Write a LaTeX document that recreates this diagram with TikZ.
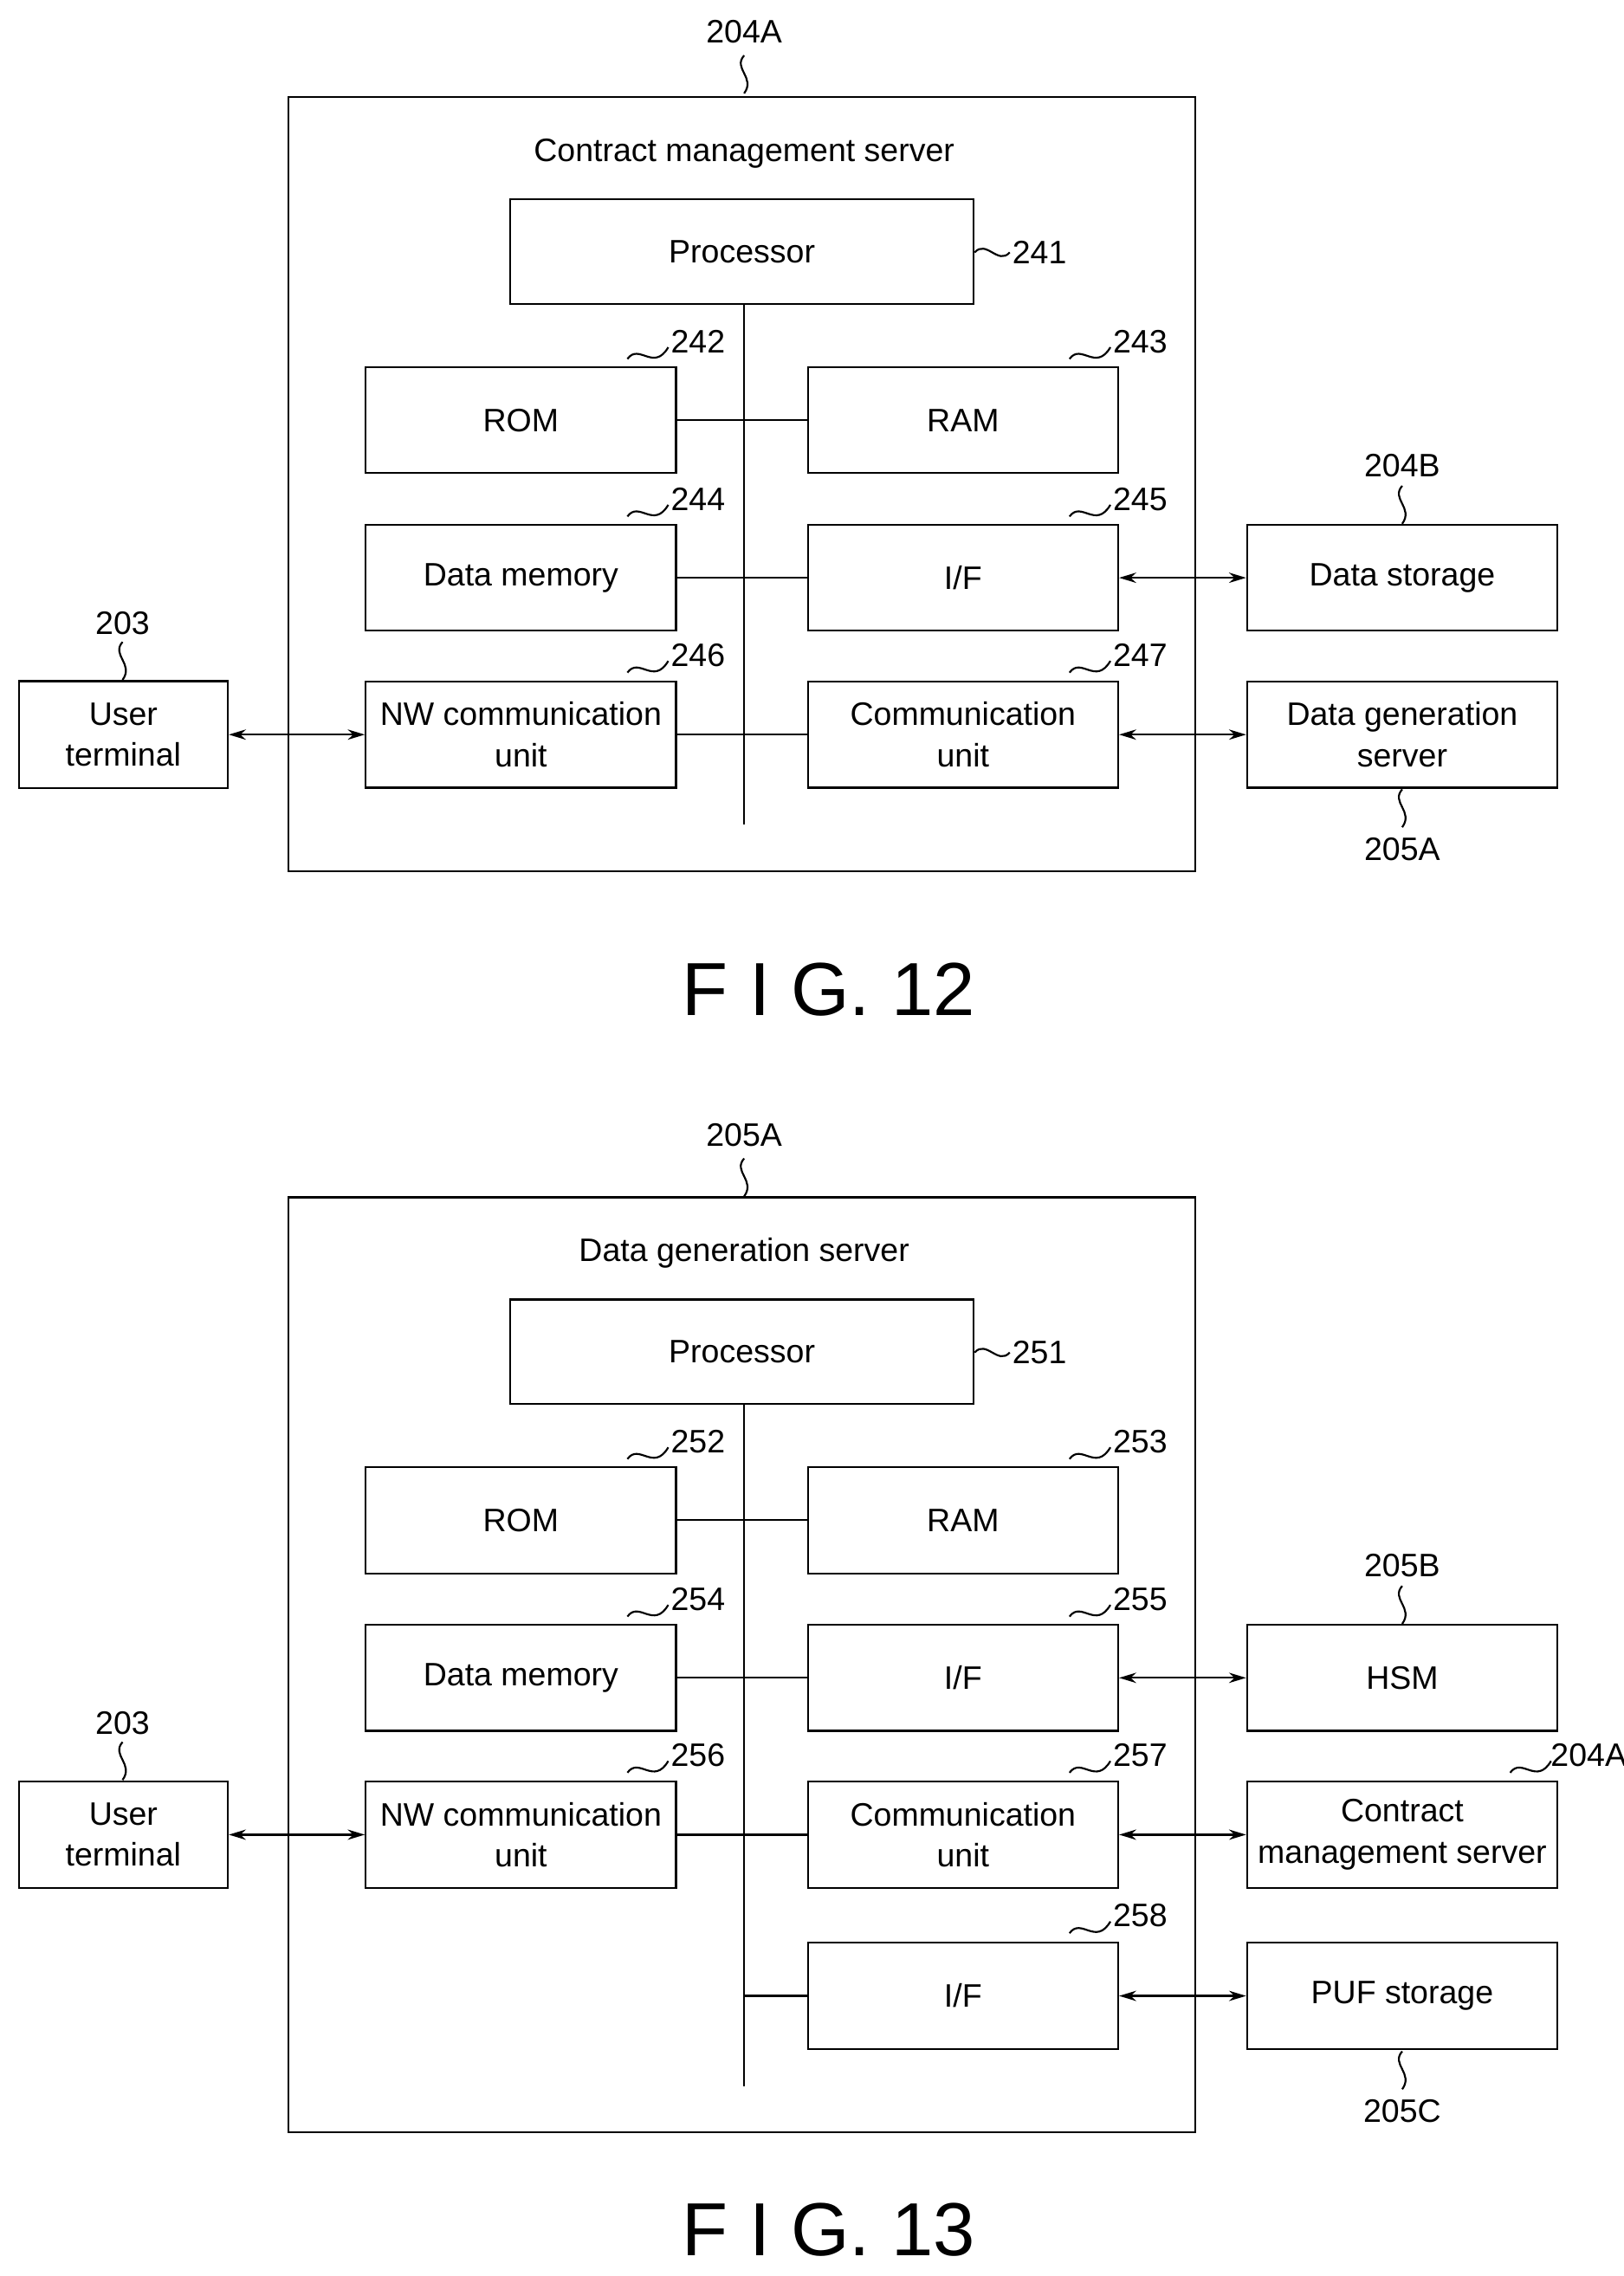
\documentclass[tikz,border=0pt]{standalone}
\usepackage{fontspec}
\setmainfont{Liberation Sans}
\usetikzlibrary{arrows.meta}
\begin{document}
\begin{tikzpicture}[x=0.03cm,y=-0.03cm,line width=1.1pt,
 box/.style={draw,minimum width=6.38cm,minimum height=2.18cm,align=center,inner sep=0pt,font=\fontsize{19}{24}\selectfont},
 sbox/.style={draw,minimum width=4.3cm,minimum height=2.2cm,align=center,inner sep=0pt,font=\fontsize{19}{24}\selectfont},
 lab/.style={font=\fontsize{19}{24}\selectfont,inner sep=1pt},
 fig/.style={font=\fontsize{44}{48}\selectfont},
 arr/.style={{Stealth[length=10pt,width=6pt]}-{Stealth[length=10pt,width=6pt]}}]
\useasboundingbox (0,0) rectangle (1113,1560);
\newcommand{\tl}[3]{\draw (#1-34,#2-5) .. controls (#1-26,#2-16) and (#1-16,#2+4) .. (#1-6,#2-13); \node[lab,anchor=west] at (#1-6,#2-17) {#3};}
\newcommand{\vt}[2]{\draw (#1,#2) .. controls (#1-8,#2+9) and (#1+8,#2+15) .. (#1,#2+26);}
% ---------- FIG 12
\begin{scope}
\node[draw,minimum width=18.65cm,minimum height=15.92cm] (outA) at (508.5,332) {};
\node[lab] (lA) at (510,22) {204A}; \vt{510}{38}
\node[lab] at (510,105) {Contract management server};
\node[draw,minimum width=9.53cm,minimum height=2.15cm,font=\fontsize{19}{24}\selectfont] (pA) at (508.5,172.5) {Processor};
\draw (668,173) .. controls (676,164) and (684,182) .. (692,173); \node[lab,anchor=west] at (692,173) {241};
\coordinate (busA1) at (510,209); \coordinate (busA2) at (510,565);
\draw (busA1) -- (busA2);
\node[box] (romA) at (357,288) {ROM}; \node[box] (ramA) at (660,288) {RAM};
\node[box] (dmA) at (357,396) {Data memory}; \node[box] (ifA) at (660,396) {I/F};
\node[box] (nwA) at (357,503.5) {NW communication\\unit}; \node[box] (cuA) at (660,503.5) {Communication\\unit};
\draw (romA) -- (ramA); \draw (dmA) -- (ifA); \draw (nwA) -- (cuA);
\tl{464}{251}{242} \tl{767}{251}{243} \tl{464}{359}{244} \tl{767}{359}{245} \tl{464}{466}{246} \tl{767}{466}{247}
\node[sbox] (utA) at (84.5,503.5) {User\\terminal};
\node[lab] at (84,427) {203}; \vt{84}{440}
\node[box] (dsA) at (961,396) {Data storage};
\node[lab] at (961,319) {204B}; \vt{961}{333}
\node[box] (dgA) at (961,503.5) {Data generation\\server};
\vt{961}{541} \node[lab] at (961,582) {205A};
\draw[arr] (utA) -- (nwA); \draw[arr] (ifA) -- (dsA); \draw[arr] (cuA) -- (dgA);
\node[fig] at (568,678) {F I G. 12};
\end{scope}
% ---------- FIG 13
\begin{scope}[shift={(0,754)}]
\node[draw,minimum width=18.65cm,minimum height=19.22cm] (outB) at (508.5,387) {};
\node[lab] at (510,24) {205A}; \vt{510}{40}
\node[lab] at (510,105) {Data generation server};
\node[draw,minimum width=9.53cm,minimum height=2.15cm,font=\fontsize{19}{24}\selectfont] (pB) at (508.5,172.5) {Processor};
\draw (668,173) .. controls (676,164) and (684,182) .. (692,173); \node[lab,anchor=west] at (692,173) {251};
\coordinate (busB1) at (510,209); \coordinate (busB2) at (510,676);
\draw (busB1) -- (busB2);
\node[box] (romB) at (357,288) {ROM}; \node[box] (ramB) at (660,288) {RAM};
\node[box] (dmB) at (357,396) {Data memory}; \node[box] (ifB) at (660,396) {I/F};
\node[box] (nwB) at (357,503.5) {NW communication\\unit}; \node[box] (cuB) at (660,503.5) {Communication\\unit};
\node[box] (if2B) at (660,614) {I/F};
\coordinate (tB) at (510,614);
\draw (romB) -- (ramB); \draw (dmB) -- (ifB); \draw (nwB) -- (cuB); \draw (tB) -- (if2B);
\tl{464}{251}{252} \tl{767}{251}{253} \tl{464}{359}{254} \tl{767}{359}{255} \tl{464}{466}{256} \tl{767}{466}{257} \tl{767}{576}{258}
\node[sbox] (utB) at (84.5,503.5) {User\\terminal};
\node[lab] at (84,427) {203}; \vt{84}{440}
\node[box] (hsmB) at (961,396) {HSM};
\node[lab] at (961,319) {205B}; \vt{961}{333}
\node[box] (cmB) at (961,503.5) {Contract\\management server};
\draw (1035,461) .. controls (1043,450) and (1053,470) .. (1063,453); \node[lab,anchor=west] at (1061,449) {204A};
\node[box] (pufB) at (961,614) {PUF storage};
\vt{961}{652} \node[lab] at (961,693) {205C};
\draw[arr] (utB) -- (nwB); \draw[arr] (ifB) -- (hsmB); \draw[arr] (cuB) -- (cmB); \draw[arr] (if2B) -- (pufB);
\node[fig] at (568,774) {F I G. 13};
\end{scope}
\end{tikzpicture}
\end{document}
